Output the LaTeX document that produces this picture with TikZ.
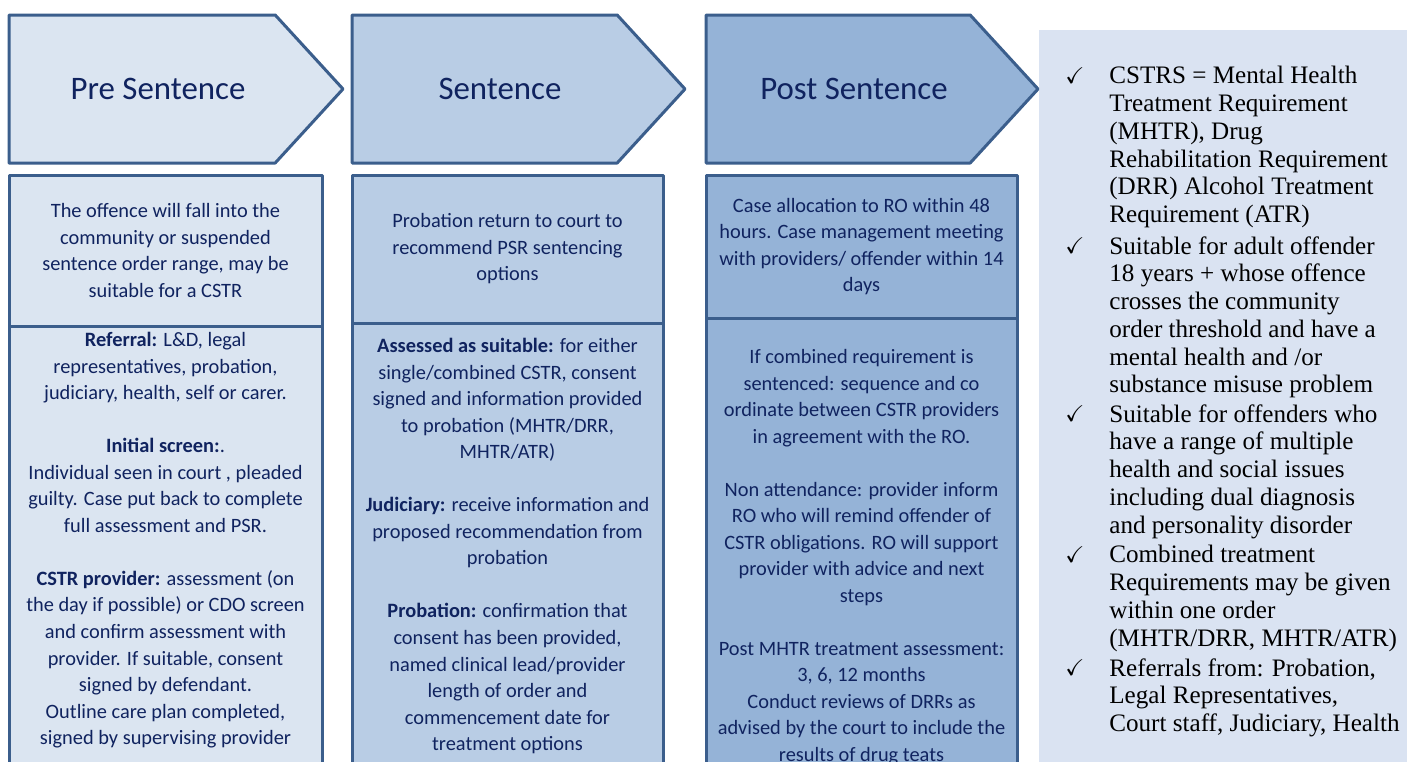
\documentclass[tikz,border=0pt]{standalone}
\usepackage{amssymb}
\usepackage{fontspec}
\setmainfont{Liberation Serif}
\newfontfamily\bodyfont{Carlito}
\usetikzlibrary{positioning,shapes.symbols}

\newlength{\pxu}
\setlength{\pxu}{0.02cm}

\definecolor{tintA}{HTML}{DBE5F1}
\definecolor{tintB}{HTML}{B9CDE5}
\definecolor{tintC}{HTML}{95B3D7}
\definecolor{panelblue}{HTML}{DAE3F2}
\definecolor{edgeblue}{HTML}{3B5E8C}
\definecolor{inkblue}{HTML}{10235F}

\tikzset{
  chev/.style={signal, signal to=east, signal pointer angle=95, draw=edgeblue,
    line width=3\pxu, line join=round, minimum width=333\pxu, minimum height=148\pxu,
    inner sep=0pt, outer sep=0pt, anchor=west},
  stage/.style={font=\bodyfont\fontsize{18.7}{22}\selectfont, text=inkblue},
  cell/.style={draw=edgeblue, line width=3\pxu, line join=round, inner sep=0pt, outer sep=0pt},
  note/.style={font=\bodyfont\fontsize{11.6}{15.1}\selectfont, text=inkblue, align=center, inner sep=0pt},
  item/.style={font=\fontsize{14.3}{15.8}\selectfont, align=left, anchor=north west, inner sep=0pt},
  tick/.style={font=\fontsize{13}{14}\selectfont, inner sep=0pt}
}

\begin{document}
\begin{tikzpicture}[x=1\pxu,y=-1\pxu]
  \useasboundingbox (0,0) rectangle (1407,761);
  \fill[white] (0,0) rectangle (1407,761);
  \clip (0,0) rectangle (1407,761);

  % side panel
  \node[fill=panelblue, minimum width=380\pxu, minimum height=760\pxu, anchor=north west, inner sep=0pt] (panel) at (1039,30) {};

  % stages
  \node[chev, fill=tintA, minimum width=334\pxu] (pre) at (9,89) {};
  \node[chev, fill=tintB] (sen) at (352,89) {};
  \node[chev, fill=tintC, minimum width=332\pxu] (post) at (706,89) {};
  \node[stage] (pretitle) at ([xshift=149\pxu]pre.west) {Pre Sentence};
  \node[stage] (sentitle) at ([xshift=148\pxu]sen.west) {Sentence};
  \node[stage] (posttitle) at ([xshift=148\pxu]post.west) {Post Sentence};

  % pre sentence column
  \node[cell, fill=tintA, minimum width=313\pxu, minimum height=151\pxu] (pretop) at (165.5,250.5) {};
  \node[cell, fill=tintA, minimum width=313\pxu, minimum height=470\pxu, anchor=north] (prebot) at (pretop.south) {};
  \node[note] (pretxt) at (pretop) {The offence will fall into the\\community or suspended\\sentence order range, may be\\suitable for a CSTR};
  \node[note, anchor=north] (prelist) at (165.5,332) {\textbf{Referral:} L\&D, legal\\representatives, probation,\\judiciary, health, self or carer.\\[15.1pt]
    \textbf{Initial screen:}.\\Individual seen in court , pleaded\\guilty. Case put back to complete\\full assessment and PSR.\\[15.1pt]
    \textbf{CSTR provider:} assessment (on\\the day if possible) or CDO screen\\and confirm assessment with\\provider. If suitable, consent\\signed by defendant.\\Outline care plan completed,\\signed by supervising provider};

  % sentence column
  \node[cell, fill=tintB, minimum width=311\pxu, minimum height=148\pxu] (sentop) at (507.5,249) {};
  \node[cell, fill=tintB, minimum width=311\pxu, minimum height=470\pxu, anchor=north] (senbot) at (sentop.south) {};
  \node[note] (sentxt) at (sentop) {Probation return to court to\\recommend PSR sentencing\\options};
  \node[note, anchor=north] (senlist) at (507.5,338) {\textbf{Assessed as suitable:}  for either\\single/combined CSTR, consent\\signed and information provided\\to probation (MHTR/DRR,\\MHTR/ATR)\\[15.1pt]
    \textbf{Judiciary:} receive information and\\proposed recommendation from\\probation\\[15.1pt]
    \textbf{Probation:} confirmation that\\consent has been provided,\\named clinical lead/provider\\length of order and\\commencement date for\\treatment options};

  % post sentence column
  \node[cell, fill=tintC, minimum width=311\pxu, minimum height=143\pxu] (posttop) at (861.5,246.5) {};
  \node[cell, fill=tintC, minimum width=311\pxu, minimum height=470\pxu, anchor=north] (postbot) at (posttop.south) {};
  \node[note] (posttxt) at (posttop) {Case allocation to RO within 48\\hours. Case management  meeting\\with providers/ offender within 14\\days};
  \node[note, anchor=north] (postlist) at (861.5,349) {If combined requirement is\\sentenced:  sequence and co\\ordinate between CSTR providers\\in agreement with the RO.\\[15.1pt]
    Non attendance: provider inform\\RO who will remind offender of\\CSTR obligations. RO will support\\provider with advice and next\\steps\\[15.1pt]
    Post MHTR  treatment assessment:\\3, 6,  12 months\\Conduct reviews of DRRs as\\advised by the court to include the\\results of drug teats};

  % criteria list
  \foreach \y [count=\i] in {76,246,414,555,668}
    \node[tick] (tick\i) at (1075,\y) {$\checkmark$};
  \node[item] (crit1) at (1109,66) {CSTRS = Mental Health\\Treatment Requirement\\(MHTR), Drug\\Rehabilitation Requirement\\(DRR) Alcohol Treatment\\Requirement (ATR)};
  \node[item] (crit2) at (1109,236) {Suitable for adult offender\\18 years + whose offence\\crosses the community\\order threshold and have a\\mental health and /or\\substance misuse problem};
  \node[item] (crit3) at (1109,404) {Suitable for offenders who\\have a range of multiple\\health and social issues\\including dual diagnosis\\and personality disorder};
  \node[item] (crit4) at (1109,545) {Combined treatment\\Requirements may be given\\within one order\\(MHTR/DRR, MHTR/ATR)};
  \node[item] (crit5) at (1109,658) {Referrals from: Probation,\\Legal Representatives,\\Court staff, Judiciary, Health};
\end{tikzpicture}
\end{document}
